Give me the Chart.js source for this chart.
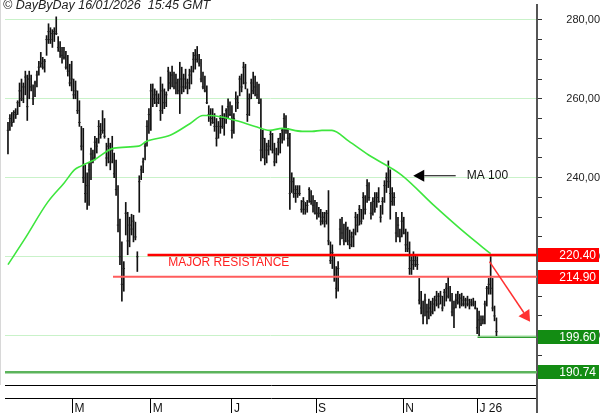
<!DOCTYPE html>
<html>
<head>
<meta charset="utf-8">
<script src="https://cdn.jsdelivr.net/npm/chart.js@4.4.1/dist/chart.umd.min.js"></script>
<style>
  html, body { margin: 0; padding: 0; background: #fff; }
  canvas { display: block; }
</style>
</head>
<body>
<canvas id="chart" width="600" height="413"></canvas>
<script>
// one entry per session, mid Jan 2025 -> 16 Jan 2026
const highs = [
  254, 256, 256.5, 257, 257.5, 259.5, 264, 265, 264, 267,
  266, 267, 266, 263.5, 264.5, 267, 269.5, 271.75, 270.5, 270,
  276, 279, 278, 277.5, 278, 280.75, 275.75, 274.5, 273, 273,
  272, 271, 268.75, 269.5, 265, 264.5, 262, 259.5, 253, 252.5,
  243.25, 241.25, 243.75, 247.5, 247, 250.5, 250, 254.5, 253.75, 257,
  255, 248.75, 250, 248.75, 250.5, 246.25, 244.5, 238, 229.5, 223.75,
  218.75, 233.75, 231.25, 230, 230.75, 230.5, 228.75, 221.25, 240.5, 243,
  245, 248.75, 254.5, 257.5, 263.75, 263.75, 262.5, 262, 261.25, 265.5,
  263.75, 262.5, 261.75, 268, 266.75, 268.25, 266.75, 266.25, 265, 269.25,
  268, 266.25, 267.5, 265, 267.5, 268.25, 271.75, 272.5, 273.25, 271.25,
  270, 266.75, 265.75, 263.25, 258.25, 257.5, 257.5, 256.25, 255, 254.25,
  255.75, 258.25, 256.25, 257.5, 260, 259.25, 258.25, 256.25, 261.75, 260.75,
  265.75, 266.25, 269.25, 268.75, 262.5, 261.25, 265, 266.75, 265.75, 264.25,
  263.75, 260, 252, 250, 248.75, 249.5, 252, 251.25, 248.75, 247.5,
  250, 251.25, 252.5, 256.25, 255.75, 252.5, 251.25, 241.25, 240, 238,
  238, 238, 234.25, 235, 233.75, 234.25, 237.5, 236.75, 235.5, 234.25,
  233.75, 232.5, 232, 231.25, 231.25, 231.75, 236.75, 223.75, 223, 220,
  217.5, 218.75, 229.5, 230, 228.25, 228.75, 227.5, 226.75, 226.25, 227,
  231.25, 230.75, 233, 232, 236.25, 235.5, 239.5, 238.75, 233.75, 235,
  236.25, 236.25, 237.5, 233, 235, 239.25, 241.25, 244.25, 242, 237.5,
  236.25, 231.25, 230, 227, 231.25, 230, 227, 226.25, 223.75, 220,
  221.25, 220.5, 220, 214.5, 211.25, 208.75, 210.5, 208, 209.25, 208.75,
  209.5, 210, 211.25, 210.75, 211.25, 210, 211.75, 213.25, 215, 212.5,
  210.75, 208.75, 210.5, 211.25, 210.5, 210.75, 210, 209.5, 210, 209.25,
  209.25, 209.5, 208.75, 207, 206.25, 205, 205, 208.75, 212.5, 214.5,
  220, 214.5, 207.5, 204.5
]
const lows = [
  246, 252, 253, 254, 255, 256, 258, 259.5, 259, 261,
  254.5, 260, 262, 258.5, 260.5, 263, 266, 268, 267.5, 266.75,
  271, 274, 274, 273, 274.5, 276.25, 272, 270.5, 269, 270,
  267.5, 265.75, 263.25, 262, 260, 260, 256.25, 253, 247, 238.75,
  233.75, 232, 233, 239.5, 243.75, 244.5, 246.25, 248.75, 250, 251.25,
  250, 243, 243.75, 242, 243.75, 240, 235.5, 226.25, 218, 208.75,
  211.25, 225.5, 220.5, 222.5, 225.5, 223.75, 224.25, 216.25, 231.25, 239.5,
  241.25, 244.5, 248, 251.25, 252, 258, 258.75, 258, 258.75, 254.5,
  256.25, 257.5, 258, 262, 262.5, 263, 262.5, 261.25, 261.25, 256.25,
  261.25, 261.75, 262.5, 261.25, 262.5, 263.75, 266.75, 267.5, 269.25, 268.25,
  264.25, 262.5, 261.75, 258.75, 254.25, 253.25, 253.75, 251.75, 248, 250,
  251.25, 252.5, 250.75, 253.75, 255, 255.75, 250, 251.25, 256.75, 257.5,
  260.75, 261.75, 263.75, 262.5, 254.25, 255.75, 260, 261.25, 260.75, 260,
  258.75, 244.25, 245, 243.25, 243.75, 245.75, 247, 246.25, 243, 243.75,
  245.75, 246.25, 248.75, 249.5, 251.25, 248, 232, 236.25, 235, 233.75,
  235, 235.5, 231.25, 230.75, 230.75, 231.25, 233.75, 233.25, 231.25, 230.75,
  229.5, 230, 228, 228.25, 227.5, 228.25, 223, 218.25, 217, 213.75,
  209.5, 211.25, 223, 224.5, 223, 223.75, 223, 222, 222.5, 222.5,
  225.5, 226.25, 228, 228.25, 229.5, 230.75, 233.75, 234.25, 229.5, 230.5,
  231.25, 232.5, 233.75, 228.75, 230.75, 233.75, 236.25, 237.5, 229.5, 233,
  233, 223.75, 225, 223.75, 225, 225.75, 221.25, 221.25, 215.5, 215.5,
  216.75, 217.5, 216.75, 208, 205.5, 203, 205, 203, 204.25, 205,
  205.5, 206.25, 207.5, 207, 208, 206.25, 207.5, 208.75, 209.5, 208.75,
  205, 202, 207, 208, 207, 207.5, 207.5, 207, 207.5, 206.75,
  207.5, 207.5, 206.75, 200.5, 200, 202.5, 203, 203, 207.5, 210.5,
  210.5, 206.25, 203.75, 200
]
const closes = [
  252, 255, 254, 256.5, 256, 259, 262, 260, 263, 265.5,
  258, 265, 263, 260, 264, 266, 268, 269, 268, 269.5,
  275, 277, 275, 276.5, 277, 276.5, 273, 272, 271, 270.5,
  268, 267, 264, 265, 261, 262, 257, 254, 248, 240,
  236, 238, 242, 246, 245, 249, 248, 253, 251, 252,
  250.5, 245, 248, 244, 247, 241, 237, 228, 220, 213,
  217, 231, 224, 228, 227, 229, 225, 220, 239, 242,
  244, 248, 253, 256, 262, 260, 261, 259, 260, 257,
  262, 259, 261, 267, 264, 266, 263, 264, 262, 265,
  263, 265, 263, 264, 266, 267, 270, 271, 270, 269,
  265, 263, 262, 259, 256, 255, 254, 253, 250, 253,
  255, 253, 255, 257, 258, 256, 252, 255, 260, 259,
  265, 263, 268, 264, 256, 260, 264, 262, 263, 261,
  259, 247, 250, 245, 247, 248, 251, 247, 244, 246,
  249, 250, 252, 255, 252, 250, 236, 239, 236, 237,
  236, 236, 232, 234, 232, 233, 237, 234, 233, 231,
  231, 231, 229, 230, 229, 231, 224, 219, 221, 215,
  212, 217, 227, 226, 224, 227, 224, 223, 225, 226,
  230, 228, 232, 229, 235, 232, 238, 235, 231, 234,
  232, 235, 234, 230, 234, 238, 240, 239, 236, 234,
  235, 226, 228, 225, 229, 226, 223, 222, 217, 219,
  218, 219, 218, 209, 207, 205, 209, 206, 207, 206,
  208, 209, 210, 208, 210, 207, 211, 212, 210, 209,
  206, 207, 209, 208.5, 209.5, 208, 209, 208, 209, 208,
  208.5, 208, 207, 202, 204, 203, 204, 208, 212, 213,
  212, 207, 205, 201
]

// MA 100 at some sessions
const maDays = [0, 8.7, 20.5, 29.2, 34.4, 38, 44.6, 54.9, 67.7, 71.8, 84, 94.4, 101, 104.7,
  118, 128, 135.5, 142, 152.4, 157.5, 162.6, 167.8, 176.5, 186.8, 203.7, 220.6, 238, 250]
const maValues = [218, 224.5, 233.75, 238.75, 242, 243, 244.5, 247.5, 248, 249.25, 250.75, 253.75, 255.75, 255.75,
  254.5, 253, 252, 252.5, 251.75, 251.75, 252, 252, 249.25, 245.75, 240.75, 233, 225.5, 220.75]

// month starts (session index) and their labels
const monthDays = [33.4, 73.9, 116, 159.6, 204.7, 243.2]
const monthLabels = ['M', 'M', 'J', 'S', 'N', 'J 26']

// horizontal levels and the session where each line starts
const levels = [220.40, 214.90, 199.60, 190.74]
const levelStart = [72.3, 54.4, 243.2, -1.54]

const xMin = -1.54
const xMax = 274

const lineColors = ['#ff0000', '#ff5c5c', '#2f9f2f', '#5cb45c']
const lineWidths = [2.5, 2, 1.5, 2.5]
const boxColors = ['#ff0000', '#ff0000', '#138c13', '#138c13']
const FONT = '"Liberation Sans", Arial, sans-serif'

function arrow(ctx, x0, y0, x1, y1, color, width, len, half) {
    const a = Math.atan2(y1 - y0, x1 - x0)
    const bx = x1 - Math.cos(a) * len
    const by = y1 - Math.sin(a) * len
    ctx.strokeStyle = color
    ctx.fillStyle = color
    ctx.lineWidth = width
    ctx.beginPath()
    ctx.moveTo(x0, y0)
    ctx.lineTo(bx, by)
    ctx.stroke()
    ctx.beginPath()
    ctx.moveTo(x1, y1)
    ctx.lineTo(bx - Math.sin(a) * half, by + Math.cos(a) * half)
    ctx.lineTo(bx + Math.sin(a) * half, by - Math.cos(a) * half)
    ctx.closePath()
    ctx.fill()
}

// no extra room for the end labels: the plot fills the frame
function noPad(s) {
    s.paddingTop = 0
    s.paddingBottom = 0
    s.paddingLeft = 0
    s.paddingRight = 0
}

const overlay = {
    id: 'overlay',
    afterDraw(chart) {
        const {ctx, chartArea, scales: {x, y}} = chart
        ctx.save()

        // faint frame on the left, axis line down through the date strip
        ctx.strokeStyle = '#d8d8d8'
        ctx.lineWidth = 1
        ctx.beginPath()
        ctx.moveTo(0.5, 0)
        ctx.lineTo(0.5, chartArea.bottom)
        ctx.stroke()
        ctx.strokeStyle = '#555'
        ctx.lineWidth = 2
        ctx.beginPath()
        ctx.moveTo(chartArea.right, chartArea.bottom)
        ctx.lineTo(chartArea.right, chart.height)
        ctx.stroke()

        // price boxes on the axis
        ctx.font = '12px ' + FONT
        ctx.textAlign = 'right'
        ctx.textBaseline = 'middle'
        levels.forEach((lv, i) => {
            const py = Math.round(y.getPixelForValue(lv))
            ctx.fillStyle = boxColors[i]
            ctx.fillRect(chartArea.right + 1, py - 7, 61, 14)
            ctx.fillStyle = '#fff'
            ctx.fillText(lv.toFixed(2), 596, py + 1)
        })

        // text notes
        ctx.textAlign = 'left'
        ctx.fillStyle = '#ff2020'
        ctx.fillText('MAJOR RESISTANCE', x.getPixelForValue(83), y.getPixelForValue(218.4))
        ctx.fillStyle = '#111'
        ctx.fillText('MA 100', x.getPixelForValue(237.6), y.getPixelForValue(240.6))

        arrow(ctx, x.getPixelForValue(231.9), y.getPixelForValue(240.5),
            x.getPixelForValue(209.9), y.getPixelForValue(240.5), '#000', 1, 11, 6)
        arrow(ctx, x.getPixelForValue(249.4), y.getPixelForValue(218.75),
            x.getPixelForValue(270.4), y.getPixelForValue(203.5), '#ff3030', 1.5, 11, 6.5)

        ctx.font = 'italic 12.5px ' + FONT
        ctx.textBaseline = 'alphabetic'
        ctx.fillStyle = '#222'
        ctx.fillText('\u00a9 DayByDay 16/01/2026  15:45 GMT', 3, 9)
        ctx.restore()
    }
}

const levelSets = levels.map((lv, i) => ({
    type: 'line',
    xAxisID: 'x',
    data: [{x: levelStart[i], y: lv}, {x: xMax, y: lv}],
    borderColor: lineColors[i],
    borderWidth: lineWidths[i],
    pointRadius: 0,
    order: 0
}))

new Chart('chart', {
    type: 'bar',
    data: {
        datasets: [
            ...levelSets,
            {
                type: 'line',
                xAxisID: 'x',
                data: maDays.map((d, i) => ({x: d, y: maValues[i]})),
                borderColor: '#3ee63e',
                borderWidth: 1.6,
                pointRadius: 0,
                cubicInterpolationMode: 'monotone',
                order: 1
            },
            {
                type: 'line',
                xAxisID: 'x',
                data: closes.map((c, i) => ({x: i, y: c})),
                showLine: false,
                pointStyle: 'line',
                pointRadius: 1.2,
                pointBorderWidth: 1,
                pointBorderColor: '#222',
                order: 2
            },
            {
                type: 'bar',
                xAxisID: 'x',
                data: highs.map((h, i) => ({x: i, y: [lows[i], h]})),
                backgroundColor: '#111',
                barThickness: 1,
                grouped: false,
                order: 3
            }
        ]
    },
    options: {
        responsive: false,
        animation: false,
        devicePixelRatio: 1,
        layout: {padding: 0},
        plugins: {
            legend: {display: false},
            tooltip: {enabled: false}
        },
        scales: {
            x: {
                type: 'linear',
                axis: 'x',
                position: 'bottom',
                weight: 1,
                min: xMin,
                max: xMax,
                offset: false,
                afterBuildTicks: s => { s.ticks = monthDays.map(v => ({value: v})) },
                afterFit: s => { s.height = 15; noPad(s) },
                ticks: {
                    autoSkip: false,
                    maxRotation: 0,
                    align: 'start',
                    labelOffset: 2,
                    padding: -12,
                    color: '#111',
                    font: {family: FONT, size: 12},
                    callback: (v, i) => monthLabels[i]
                },
                grid: {
                    offset: false,
                    drawOnChartArea: false,
                    drawTicks: true,
                    tickLength: 15,
                    tickColor: '#000',
                    tickWidth: 1
                },
                border: {display: true, color: '#000', width: 1}
            },
            xBand: {
                type: 'linear',
                axis: 'x',
                position: 'bottom',
                weight: 0,
                min: xMin,
                max: xMax,
                offset: false,
                afterFit: s => { s.height = 13; noPad(s) },
                ticks: {display: false},
                grid: {offset: false, drawOnChartArea: false, drawTicks: false, color: 'transparent'},
                border: {display: true, color: '#000', width: 1}
            },
            y: {
                position: 'right',
                min: 187.5,
                max: 283.75,
                afterFit: s => { s.width = 63; noPad(s) },
                ticks: {
                    stepSize: 5,
                    includeBounds: false,
                    autoSkip: false,
                    padding: 15,
                    crossAlign: 'far',
                    color: '#222',
                    font: {family: FONT, size: 11},
                    callback: v => v % 20 === 0 ? v.toFixed(2).replace('.', ',') : ''
                },
                grid: {
                    color: c => c.tick && c.tick.value % 20 === 0 ? '#c9f2c9' : 'transparent',
                    tickColor: '#333',
                    tickLength: 5,
                    lineWidth: 1
                },
                border: {display: true, color: '#555', width: 2}
            }
        }
    },
    plugins: [overlay]
})
</script>
</body>
</html>
